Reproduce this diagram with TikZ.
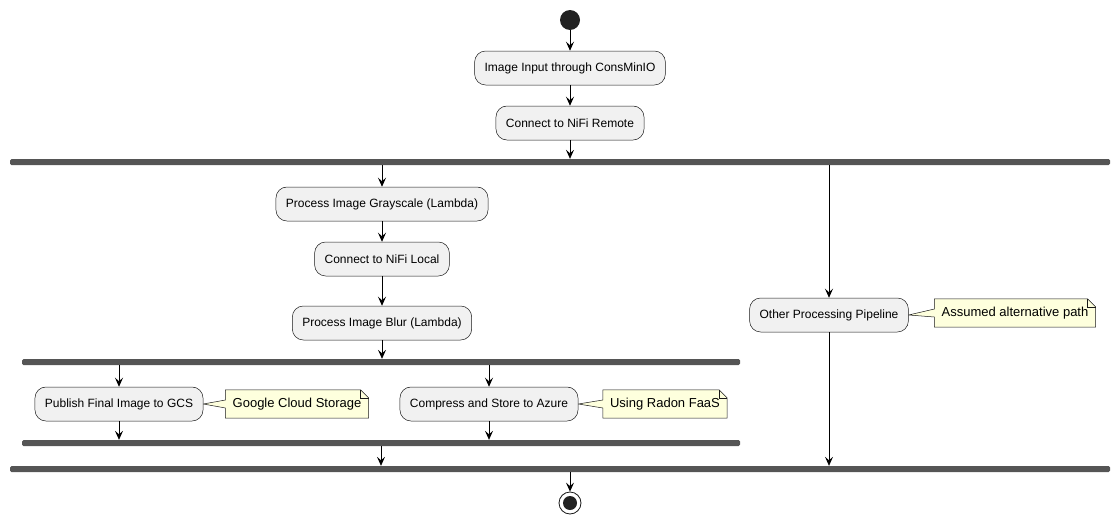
\documentclass[tikz,border=0pt]{standalone}
\usepackage{fontspec}
\setmainfont{Liberation Sans}
\usetikzlibrary{arrows.meta,positioning,backgrounds}

\definecolor{actfill}{HTML}{F1F1F1}
\definecolor{notefill}{HTML}{FEFFDD}
\definecolor{barfill}{HTML}{555555}
\definecolor{edgecol}{HTML}{181818}

\tikzset{
  act/.style = {draw=edgecol, line width=0.5pt, fill=actfill, rounded corners=11pt,
                minimum height=34pt, inner xsep=10pt, font=\fontsize{12}{14}\selectfont},
  note/.style = {font=\fontsize{13}{15}\selectfont, inner xsep=7pt, minimum height=28pt},
  bar/.style = {fill=barfill, rounded corners=1.5pt, inner sep=0pt, minimum height=6pt},
  flow/.style = {-{Stealth[length=9pt,width=8pt,inset=3.5pt]}, line width=0.8pt},
  noteline/.style = {draw=edgecol, fill=notefill, line width=0.5pt, line join=miter}
}

\begin{document}
\begin{tikzpicture}[x=1pt, y=-1pt]
\useasboundingbox (0,0) rectangle (1120,525);

\node[circle, fill=black!87, minimum size=20pt, inner sep=0pt] (start) at (570,20) {};
\node[act] (input) at (570,68) {Image Input through ConsMinIO};
\node[act] (remote) at (570,123) {Connect to NiFi Remote};
\node[bar, minimum width=1100pt] (fork) at (560,162) {};

\node[act] (gray) at (382,204) {Process Image Grayscale (Lambda)};
\node[act] (local) at (382,259) {Connect to NiFi Local};
\node[act] (blur) at (382,323) {Process Image Blur (Lambda)};
\node[bar, minimum width=718pt] (innerfork) at (381,362) {};
\node[act] (gcs) at (119,404) {Publish Final Image to GCS};
\node[act] (azure) at (489,404) {Compress and Store to Azure};
\node[bar, minimum width=718pt] (innerjoin) at (381,443) {};

\node[act] (other) at (829,315) {Other Processing Pipeline};

\node[bar, minimum width=1100pt] (join) at (560,469) {};
\node[circle, draw=edgecol, fill=white, line width=0.8pt, minimum size=22pt, inner sep=0pt] (stop) at (570,503) {};
\fill[black!87] (stop) circle (7pt);

% notes
\node[note] (notegcs) at (297,404) {Google Cloud Storage};
\node[note] (noteazure) at (665,404) {Using Radon FaaS};
\node[note] (noteother) at (1015,313) {Assumed alternative path};
\begin{scope}[on background layer]
\foreach \n/\b in {notegcs/gcs, noteazure/azure, noteother/other} {
  \draw[noteline] (\n.south west) -- ([yshift=-4pt]\n.west) -- (\b.east)
    -- ([yshift=4pt]\n.west) -- (\n.north west) -- ([xshift=-8pt]\n.north east)
    -- ([yshift=-8pt]\n.north east) -- (\n.south east) -- cycle;
  \draw[noteline, fill=none] ([xshift=-8pt]\n.north east) -- ([xshift=-8pt,yshift=-8pt]\n.north east)
    -- ([yshift=-8pt]\n.north east);
}
\end{scope}

% main flow
\draw[flow] (start) -- (input);
\draw[flow] (input) -- (remote);
\draw[flow] (remote) -- (fork.north -| remote);
\draw[flow] (fork.south -| gray) -- (gray);
\draw[flow] (gray) -- (local);
\draw[flow] (local) -- (blur);
\draw[flow] (blur) -- (innerfork.north -| blur);
\draw[flow] (innerfork.south -| gcs) -- (gcs);
\draw[flow] (innerfork.south -| azure) -- (azure);
\draw[flow] (gcs) -- (innerjoin.north -| gcs);
\draw[flow] (azure) -- (innerjoin.north -| azure);
\draw[flow] (innerjoin.south) -- (join.north -| innerjoin.south);
\draw[flow] (fork.south -| other) -- (other);
\draw[flow] (other) -- (join.north -| other);
\draw[flow] (join.south -| stop) -- (stop);
\end{tikzpicture}
\end{document}
